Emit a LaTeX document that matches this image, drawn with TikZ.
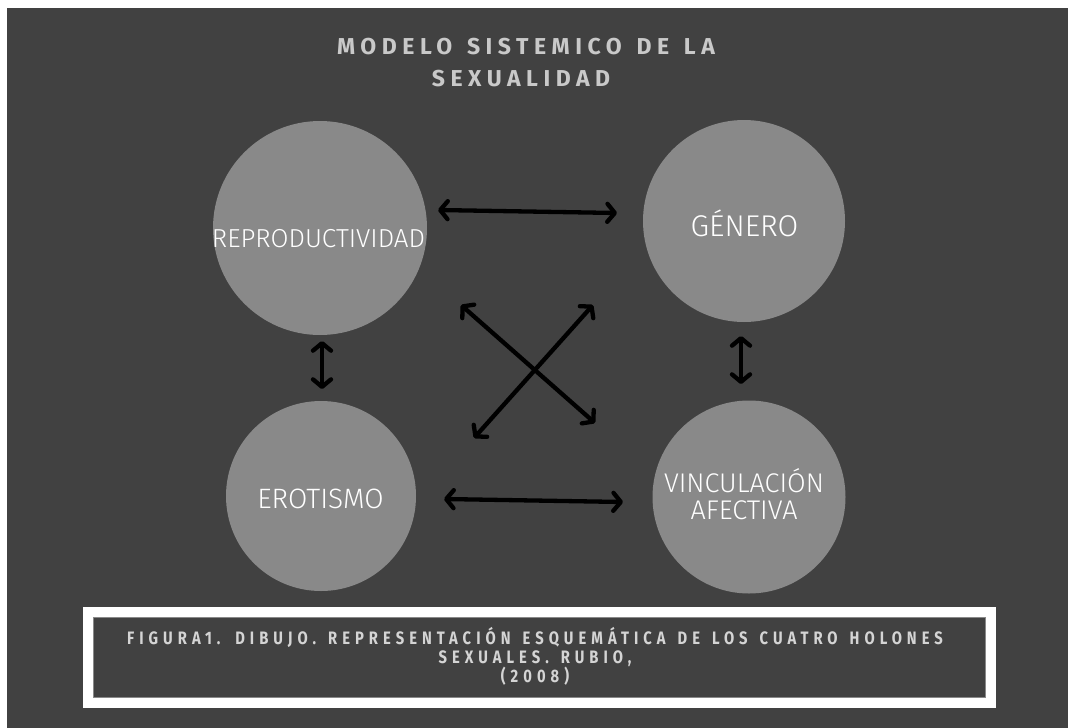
\documentclass[tikz,border=0pt]{standalone}
\usepackage{fontspec}
\setmainfont{Fira Sans Light}
\newfontfamily\titlefont{Fira Sans}[LetterSpace=24,WordSpace=1.35]
\newfontfamily\capfont{Fira Sans}[LetterSpace=28,FakeStretch=0.82,WordSpace=1.4]
\usetikzlibrary{arrows.meta}
\definecolor{bg}{HTML}{414141}
\definecolor{disc}{HTML}{898989}
\definecolor{ttl}{HTML}{C9C9C9}
\definecolor{captxt}{HTML}{D4D4D4}
\tikzset{
  holon/.style={circle, fill=disc, draw=none, inner sep=0pt},
  lbl/.style={text=white, inner sep=0pt, anchor=base},
  ttlbl/.style={text=ttl, inner sep=0pt, anchor=base, font=\titlefont\bfseries\fontsize{23}{27}\selectfont},
  caplbl/.style={text=captxt, inner sep=0pt, anchor=base, font=\capfont\bfseries\fontsize{18}{21}\selectfont},
  link/.style={black, line width=4.3pt, line cap=round, {Straight Barb[length=7.5pt,width=18pt,line cap=round,line join=round]}-{Straight Barb[length=7.5pt,width=18pt,line cap=round,line join=round]}}
}
\begin{document}
\begin{tikzpicture}[x=1pt,y=-1pt]
\useasboundingbox (0,0) rectangle (1068,728);
\fill[white] (0,0) rectangle (1068,728);
\fill[bg] (7,8) rectangle (1068.5,728.5);
% title
\node[ttlbl] (t1) at (526,54) {MODELO SISTEMICO DE LA};
\node[ttlbl] (t2) at (521,86) {SEXUALIDAD};
% holons
\node[holon, minimum size=214pt] (rep) at (320,228) {};
\node[holon, minimum size=202pt] (gen) at (744,221) {};
\node[holon, minimum size=190pt] (ero) at (321,496) {};
\node[holon, minimum size=193pt] (vin) at (749,497) {};
\node[lbl, font=\fontsize{26}{30}\selectfont] (repl) at (318.5,247) {REPRODUCTIVIDAD};
\node[lbl, font=\fontsize{30}{34}\selectfont] (genl) at (744.5,236) {GÉNERO};
\node[lbl, font=\fontsize{28}{32}\selectfont] (erol) at (320.5,508) {EROTISMO};
\node[lbl, font=\fontsize{27}{31}\selectfont] (vinl1) at (744,492) {VINCULACIÓN};
\node[lbl, font=\fontsize{27}{31}\selectfont] (vinl2) at (744,519) {AFECTIVA};
% arrow ends
\coordinate (a1) at (438,210); \coordinate (a2) at (617,213);
\coordinate (b1) at (444,499); \coordinate (b2) at (623,502);
\coordinate (c1) at (322,341); \coordinate (c2) at (322,389);
\coordinate (d1) at (741,336); \coordinate (d2) at (741,384);
\coordinate (e1) at (461,305); \coordinate (e2) at (595,423);
\coordinate (f1) at (474,438); \coordinate (f2) at (593,305);
\draw[link] (a1) -- (a2);
\draw[link] (b1) -- (b2);
\draw[link] (c1) -- (c2);
\draw[link] (d1) -- (d2);
\draw[link] (e1) -- (e2);
\draw[link] (f1) -- (f2);
% caption frame
\draw[white, line width=10pt] (88,612) rectangle (991,703);
\draw[disc, line width=0.8pt] (93.5,617.5) rectangle (985.5,697.5);
\node[caplbl] (c1t) at (535,644) {FIGURA1. DIBUJO. REPRESENTACIÓN ESQUEMÁTICA DE LOS CUATRO HOLONES};
\node[caplbl] (c2t) at (535,663) {SEXUALES. RUBIO,};
\node[caplbl] (c3t) at (535,682) {(2008)};
\end{tikzpicture}
\end{document}
